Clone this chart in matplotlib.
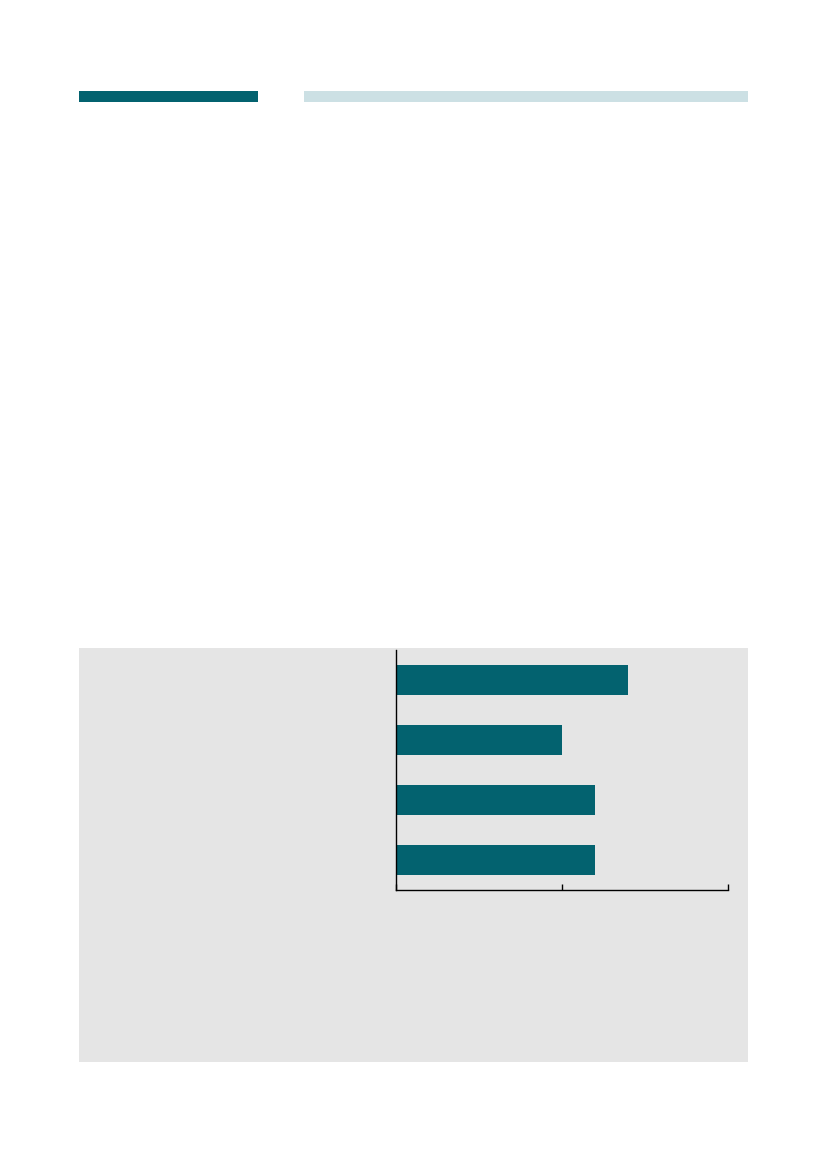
import matplotlib.pyplot as plt
from matplotlib.patches import Rectangle

# chart data (no labels visible in the reference)
categories = ["A", "B", "C", "D"]
values = [70, 50, 60, 60]
x_ticks = [0, 50, 100]

TEAL = "#03626f"
LIGHT = "#cce0e4"
GREY = "#e5e5e5"

W, H = 827, 1170
fig = plt.figure(figsize=(W / 100, H / 100), dpi=100)

def px_rect(x0, y0, x1, y1, color):
    # rectangle given in pixel coords (top-left origin)
    fig.patches.append(Rectangle((x0 / W, 1 - y1 / H), (x1 - x0) / W, (y1 - y0) / H,
                                 transform=fig.transFigure, color=color, zorder=-5, lw=0))

# header strips
px_rect(79, 91, 258, 102, TEAL)
px_rect(304, 91, 748, 102, LIGHT)

# grey panel
px_rect(79, 648, 748, 1062, GREY)

# bar chart
left, right, top, bottom = 396, 728, 650, 890
ax = fig.add_axes([left / W, 1 - bottom / H, (right - left) / W, (bottom - top) / H])
ax.set_zorder(5)
ax.patch.set_visible(False)
ax.barh(range(len(categories)), values, height=0.5, color=TEAL)
ax.set_xlim(0, 100)
ax.set_ylim(len(categories) - 0.5, -0.5)
ax.set_xticks(x_ticks)
ax.set_xticklabels([])
ax.set_yticks([])
ax.tick_params(axis="x", direction="in", length=4, width=1)
for s in ["top", "right"]:
    ax.spines[s].set_visible(False)
for s in ["left", "bottom"]:
    ax.spines[s].set_linewidth(1)
    ax.spines[s].set_color("black")

fig.savefig("out.png", dpi=100)
